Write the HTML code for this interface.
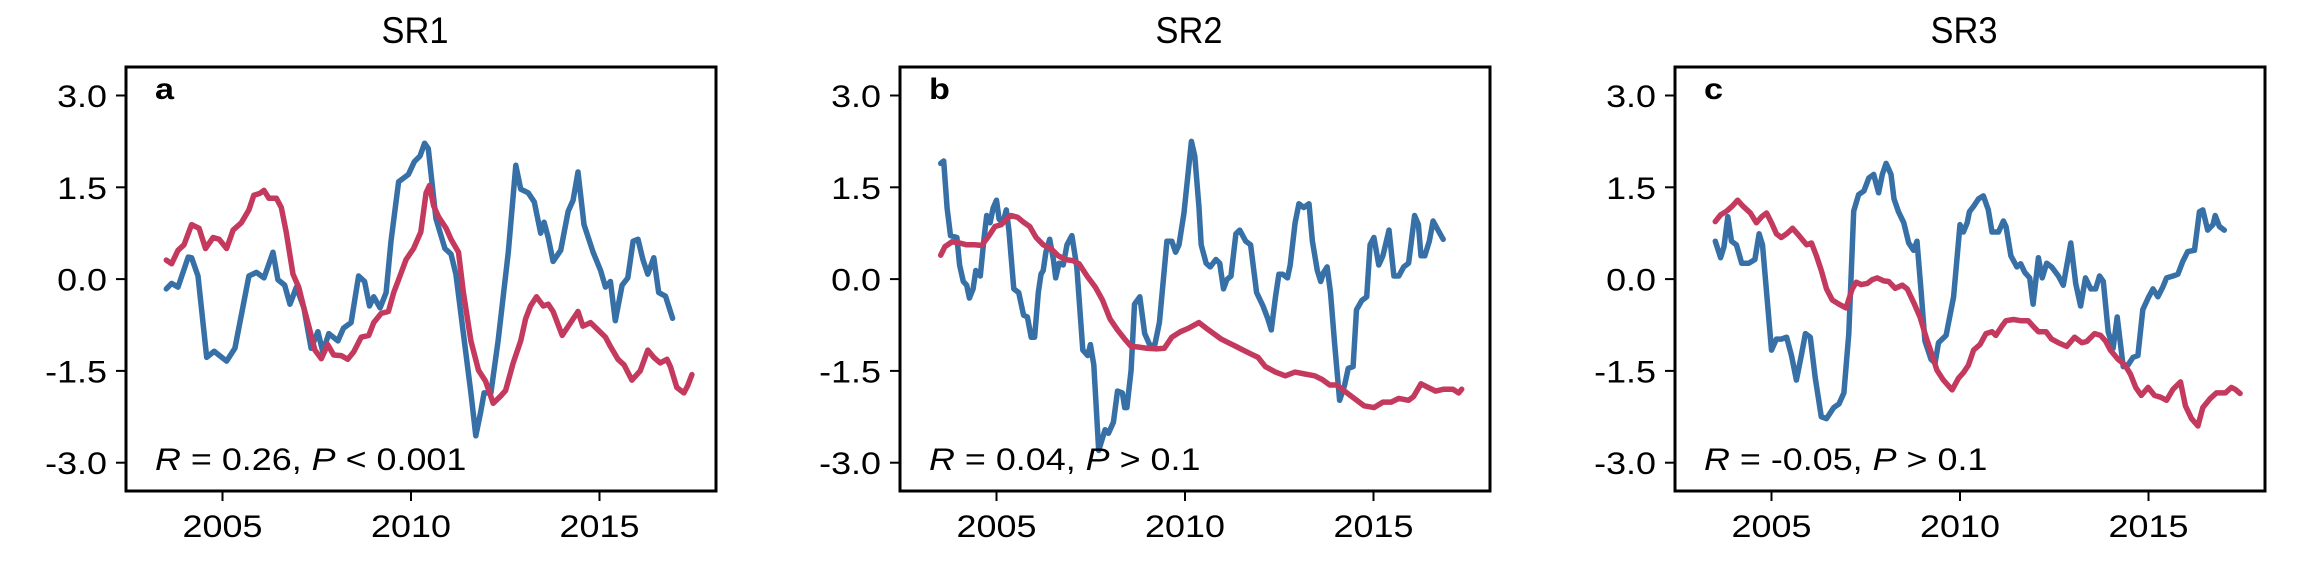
<!DOCTYPE html>
<html><head><meta charset="utf-8"><style>
html,body{margin:0;padding:0;background:#fff;}
svg{display:block;}
text{font-family:"Liberation Sans",sans-serif;fill:#000;}
</style></head>
<body>
<svg id="chart" width="2317" height="583" viewBox="0 0 2317 583" xmlns="http://www.w3.org/2000/svg"></svg>
<script>
const panelTitles = ["SR1","SR2","SR3"];
const panelLetters = ["a","b","c"];
const statR = ["0.26","0.04","-0.05"];
const statP = ["< 0.001","> 0.1","> 0.1"];
const yTicks = [3.0,1.5,0.0,-1.5,-3.0];
const yTickLabels = ["3.0","1.5","0.0","-1.5","-3.0"];
const xTicks = [2005,2010,2015];
const xTickLabels = ["2005","2010","2015"];

const aBlueYears = [2003.51,2003.65,2003.82,2004.09,2004.18,2004.35,2004.58,2004.78,2005.11,2005.33,2005.70,2005.90,2006.10,2006.34,2006.47,2006.65,2006.79,2006.96,2007.16,2007.35,2007.53,2007.66,2007.82,2008.06,2008.21,2008.41,2008.61,2008.77,2008.90,2009.01,2009.18,2009.34,2009.47,2009.67,2009.93,2010.09,2010.24,2010.36,2010.46,2010.66,2010.90,2011.06,2011.19,2011.39,2011.59,2011.72,2011.85,2011.94,2012.12,2012.31,2012.58,2012.78,2012.91,2013.11,2013.27,2013.44,2013.53,2013.64,2013.77,2013.97,2014.17,2014.30,2014.43,2014.59,2014.83,2015.03,2015.16,2015.29,2015.42,2015.60,2015.75,2015.89,2016.02,2016.15,2016.28,2016.44,2016.57,2016.75,2016.94];
const aBlueValues = [-0.16,-0.07,-0.13,0.36,0.35,0.05,-1.28,-1.18,-1.34,-1.13,0.05,0.11,0.02,0.44,-0.01,-0.10,-0.41,-0.13,-0.47,-1.13,-0.86,-1.19,-0.89,-1.01,-0.80,-0.71,0.05,-0.04,-0.44,-0.29,-0.47,-0.22,0.62,1.59,1.71,1.92,2.01,2.22,2.13,0.99,0.50,0.41,0.08,-0.89,-1.86,-2.56,-2.17,-1.86,-1.86,-1.01,0.44,1.86,1.47,1.41,1.26,0.75,0.93,0.68,0.29,0.47,1.11,1.29,1.75,0.89,0.44,0.14,-0.13,-0.04,-0.68,-0.10,0.02,0.62,0.65,0.32,0.08,0.35,-0.22,-0.28,-0.64];
const aRedYears = [2003.51,2003.65,2003.82,2003.98,2004.18,2004.38,2004.55,2004.75,2004.91,2005.11,2005.28,2005.50,2005.70,2005.83,2005.99,2006.10,2006.23,2006.43,2006.56,2006.69,2006.87,2007.02,2007.16,2007.29,2007.45,2007.62,2007.79,2007.95,2008.15,2008.32,2008.48,2008.68,2008.88,2009.01,2009.21,2009.40,2009.54,2009.67,2009.87,2010.07,2010.26,2010.40,2010.49,2010.60,2010.73,2010.93,2011.06,2011.26,2011.39,2011.59,2011.79,2011.98,2012.18,2012.38,2012.51,2012.71,2012.91,2013.04,2013.17,2013.33,2013.51,2013.64,2013.77,2014.01,2014.17,2014.43,2014.56,2014.76,2014.96,2015.16,2015.29,2015.49,2015.65,2015.86,2016.08,2016.28,2016.44,2016.61,2016.79,2016.88,2017.05,2017.24,2017.34,2017.45];
const aRedValues = [0.31,0.25,0.47,0.56,0.89,0.83,0.50,0.68,0.65,0.50,0.80,0.92,1.13,1.37,1.40,1.45,1.32,1.32,1.17,0.77,0.08,-0.13,-0.47,-0.77,-1.16,-1.30,-1.07,-1.24,-1.25,-1.31,-1.19,-0.95,-0.92,-0.71,-0.56,-0.53,-0.22,-0.01,0.32,0.50,0.77,1.41,1.53,1.20,1.02,0.83,0.65,0.44,-0.22,-1.01,-1.49,-1.67,-2.03,-1.91,-1.82,-1.37,-1.01,-0.65,-0.44,-0.29,-0.44,-0.41,-0.53,-0.92,-0.77,-0.53,-0.77,-0.71,-0.83,-0.95,-1.10,-1.31,-1.40,-1.65,-1.50,-1.16,-1.28,-1.37,-1.31,-1.43,-1.77,-1.86,-1.74,-1.56];

const bBlueYears = [2003.52,2003.60,2003.69,2003.78,2003.95,2004.02,2004.12,2004.21,2004.28,2004.38,2004.45,2004.57,2004.67,2004.74,2004.83,2004.91,2005.00,2005.07,2005.17,2005.26,2005.33,2005.46,2005.59,2005.72,2005.82,2005.92,2006.01,2006.11,2006.18,2006.24,2006.31,2006.41,2006.51,2006.57,2006.66,2006.77,2006.87,2007.00,2007.13,2007.29,2007.42,2007.49,2007.58,2007.71,2007.88,2007.97,2008.10,2008.21,2008.34,2008.40,2008.46,2008.57,2008.66,2008.80,2008.93,2009.06,2009.19,2009.32,2009.52,2009.65,2009.75,2009.84,2009.97,2010.07,2010.17,2010.26,2010.37,2010.43,2010.56,2010.67,2010.82,2010.92,2011.02,2011.11,2011.22,2011.35,2011.45,2011.61,2011.74,2011.90,2012.07,2012.20,2012.29,2012.40,2012.49,2012.59,2012.72,2012.79,2012.92,2013.02,2013.15,2013.29,2013.38,2013.51,2013.60,2013.68,2013.77,2013.86,2013.97,2014.10,2014.23,2014.33,2014.46,2014.55,2014.69,2014.82,2014.91,2015.01,2015.14,2015.25,2015.41,2015.54,2015.67,2015.80,2015.93,2016.09,2016.19,2016.26,2016.36,2016.48,2016.58,2016.71,2016.85];
const bBlueValues = [1.89,1.93,1.16,0.71,0.68,0.23,-0.04,-0.10,-0.31,-0.16,0.14,0.05,0.68,1.04,0.92,1.16,1.29,0.98,0.92,1.13,0.80,-0.16,-0.22,-0.59,-0.62,-0.95,-0.95,-0.22,0.08,0.14,0.44,0.65,0.32,0.02,0.26,0.23,0.56,0.71,0.20,-1.16,-1.25,-1.07,-1.40,-2.80,-2.46,-2.52,-2.34,-1.83,-1.86,-2.10,-2.10,-1.49,-0.41,-0.29,-0.89,-1.07,-1.10,-0.71,0.62,0.62,0.44,0.56,1.07,1.65,2.25,2.01,1.19,0.56,0.26,0.20,0.32,0.26,-0.16,-0.01,0.05,0.74,0.80,0.62,0.56,-0.22,-0.44,-0.65,-0.83,-0.29,0.08,0.08,0.02,0.23,0.92,1.23,1.17,1.23,0.62,0.14,-0.04,0.11,0.20,-0.22,-1.07,-1.98,-1.74,-1.46,-1.43,-0.50,-0.35,-0.29,0.56,0.68,0.23,0.38,0.80,0.05,0.05,0.20,0.26,1.04,0.89,0.38,0.38,0.62,0.95,0.80,0.65];
const bRedYears = [2003.52,2003.63,2003.82,2004.02,2004.21,2004.41,2004.61,2004.80,2004.96,2005.13,2005.26,2005.39,2005.56,2005.72,2005.88,2006.05,2006.24,2006.44,2006.64,2006.83,2007.03,2007.19,2007.40,2007.62,2007.81,2008.01,2008.21,2008.40,2008.57,2008.76,2008.99,2009.25,2009.45,2009.65,2009.88,2010.10,2010.37,2010.56,2010.76,2010.96,2011.15,2011.35,2011.54,2011.74,2011.94,2012.13,2012.40,2012.66,2012.92,2013.18,2013.44,2013.64,2013.84,2014.03,2014.23,2014.49,2014.75,2015.01,2015.25,2015.47,2015.67,2015.93,2016.06,2016.26,2016.45,2016.65,2016.85,2017.11,2017.26,2017.34];
const bRedValues = [0.39,0.53,0.61,0.59,0.56,0.56,0.55,0.71,0.86,0.89,0.98,1.04,1.01,0.93,0.86,0.68,0.56,0.50,0.38,0.32,0.30,0.25,0.05,-0.13,-0.34,-0.65,-0.83,-0.98,-1.10,-1.11,-1.13,-1.14,-1.13,-0.95,-0.86,-0.80,-0.71,-0.80,-0.89,-0.98,-1.04,-1.10,-1.16,-1.22,-1.28,-1.43,-1.52,-1.58,-1.52,-1.55,-1.58,-1.64,-1.73,-1.73,-1.83,-1.95,-2.07,-2.10,-2.01,-2.01,-1.95,-1.98,-1.92,-1.71,-1.77,-1.83,-1.80,-1.80,-1.86,-1.80];

const cBlueYears = [2003.51,2003.65,2003.74,2003.84,2003.94,2004.07,2004.21,2004.40,2004.56,2004.67,2004.76,2004.87,2005.00,2005.13,2005.26,2005.40,2005.53,2005.66,2005.79,2005.90,2006.03,2006.16,2006.32,2006.46,2006.65,2006.79,2006.92,2007.05,2007.18,2007.31,2007.45,2007.58,2007.71,2007.84,2007.94,2008.04,2008.17,2008.25,2008.37,2008.51,2008.64,2008.77,2008.86,2008.97,2009.07,2009.23,2009.34,2009.43,2009.63,2009.83,2010.00,2010.09,2010.19,2010.25,2010.36,2010.49,2010.62,2010.75,2010.85,2011.02,2011.15,2011.22,2011.35,2011.51,2011.61,2011.72,2011.85,2011.94,2012.08,2012.18,2012.30,2012.43,2012.61,2012.74,2012.94,2013.07,2013.20,2013.33,2013.47,2013.60,2013.70,2013.80,2013.93,2014.06,2014.17,2014.33,2014.46,2014.59,2014.72,2014.85,2014.99,2015.12,2015.25,2015.38,2015.48,2015.65,2015.78,2015.91,2016.04,2016.22,2016.35,2016.44,2016.57,2016.71,2016.77,2016.88,2017.01];
const cBlueValues = [0.62,0.35,0.53,1.02,0.62,0.56,0.26,0.26,0.32,0.74,0.56,-0.22,-1.16,-0.98,-0.98,-0.95,-1.25,-1.65,-1.25,-0.89,-0.95,-1.61,-2.25,-2.28,-2.10,-2.04,-1.86,-0.89,1.11,1.38,1.44,1.65,1.71,1.41,1.71,1.89,1.71,1.31,1.10,0.92,0.59,0.47,0.62,-0.22,-1.01,-1.31,-1.37,-1.04,-0.92,-0.29,0.89,0.77,0.92,1.10,1.19,1.31,1.36,1.13,0.77,0.77,0.95,0.86,0.38,0.20,0.25,0.11,0.02,-0.41,0.35,0.02,0.26,0.20,0.05,-0.10,0.59,-0.07,-0.44,0.02,-0.16,-0.16,0.05,-0.04,-0.86,-1.13,-0.62,-1.43,-1.40,-1.28,-1.25,-0.50,-0.31,-0.16,-0.29,-0.13,0.02,0.05,0.08,0.29,0.45,0.47,1.10,1.13,0.80,0.89,1.04,0.86,0.80];
const cRedYears = [2003.51,2003.65,2003.81,2003.97,2004.10,2004.23,2004.44,2004.60,2004.74,2004.87,2005.00,2005.13,2005.26,2005.40,2005.56,2005.73,2005.93,2006.06,2006.19,2006.32,2006.46,2006.61,2006.79,2006.98,2007.14,2007.25,2007.38,2007.54,2007.67,2007.80,2007.98,2008.11,2008.28,2008.47,2008.60,2008.77,2008.94,2009.10,2009.23,2009.39,2009.56,2009.79,2009.96,2010.09,2010.22,2010.36,2010.53,2010.69,2010.85,2010.95,2011.11,2011.22,2011.42,2011.61,2011.81,2011.94,2012.08,2012.28,2012.43,2012.61,2012.83,2013.04,2013.23,2013.36,2013.57,2013.73,2013.86,2013.99,2014.19,2014.37,2014.52,2014.66,2014.81,2014.99,2015.16,2015.32,2015.48,2015.65,2015.85,2015.98,2016.14,2016.31,2016.44,2016.64,2016.80,2017.04,2017.20,2017.30,2017.43];
const cRedValues = [0.94,1.05,1.11,1.20,1.29,1.20,1.08,0.92,1.02,1.08,0.92,0.74,0.68,0.74,0.83,0.71,0.56,0.59,0.38,0.14,-0.16,-0.34,-0.41,-0.47,-0.16,-0.05,-0.09,-0.07,-0.01,0.02,-0.03,-0.04,-0.15,-0.10,-0.16,-0.38,-0.62,-0.95,-1.19,-1.49,-1.65,-1.81,-1.62,-1.53,-1.41,-1.16,-1.07,-0.89,-0.86,-0.92,-0.77,-0.68,-0.66,-0.68,-0.68,-0.77,-0.86,-0.86,-0.98,-1.04,-1.10,-0.95,-1.04,-1.02,-0.89,-0.92,-1.01,-1.16,-1.31,-1.40,-1.55,-1.77,-1.90,-1.77,-1.90,-1.93,-1.98,-1.80,-1.68,-2.07,-2.28,-2.40,-2.10,-1.95,-1.86,-1.86,-1.77,-1.80,-1.87];

const blueYears=[aBlueYears,bBlueYears,cBlueYears], blueValues=[aBlueValues,bBlueValues,cBlueValues];
const redYears=[aRedYears,bRedYears,cRedYears], redValues=[aRedValues,bRedValues,cRedValues];

const NS="http://www.w3.org/2000/svg";
const svg=document.getElementById('chart');
const panelLeft=[126,900,1675], panelW=590, panelTop=67, panelBot=491;
const SX=1.14;
function mk(tag,attrs,parent){const e=document.createElementNS(NS,tag);for(const k in attrs)e.setAttribute(k,attrs[k]);(parent||svg).appendChild(e);return e;}
function stretch(x,s){return `translate(${x} 0) scale(${s||SX} 1) translate(${-x} 0)`;}

for(let p=0;p<3;p++){
  const x0=panelLeft[p];
  const xs=y=>x0+96.5+(y-2005)*37.7;
  const ys=v=>279.1-v*61.2;
  const g=mk('g',{});
  
  
  const cx=x0+289;
  const t=mk('text',{x:cx,y:43,'font-size':37,'text-anchor':'middle',transform:stretch(cx,0.93)},g);
  t.textContent=panelTitles[p];
  
  
  const order=[[blueYears[p],blueValues[p],'#3670a6','blue-series'],[redYears[p],redValues[p],'#c43a5e','red-series']];
  for(const s of order){
    let d='';
    s[0].forEach((yr,i)=>{d+=(i?'L':'M')+xs(yr).toFixed(1)+' '+ys(s[1][i]).toFixed(1);});
    const path=mk('path',{d:d,fill:'none',stroke:s[2],'stroke-width':5.5,'stroke-linejoin':'round','stroke-linecap':'round'},g);
    
    
  }
  const box=mk('rect',{x:x0,y:panelTop,width:panelW,height:panelBot-panelTop,fill:'none',stroke:'#000','stroke-width':3},g);
  
  
  yTicks.forEach((v,i)=>{
    const y=ys(v);
    const tk=mk('line',{x1:x0-10,x2:x0,y1:y,y2:y,stroke:'#000','stroke-width':2},g);
    
    
    const lx=x0-19;
    const tl=mk('text',{x:lx,y:y+11.5,'font-size':31.5,'text-anchor':'end',transform:stretch(lx)},g);
    tl.textContent=yTickLabels[i];
    
    
  });
  xTicks.forEach((v,i)=>{
    const x=xs(v);
    const tk=mk('line',{x1:x,x2:x,y1:panelBot,y2:panelBot+10,stroke:'#000','stroke-width':2},g);
    
    
    const tl=mk('text',{x:x,y:537,'font-size':31.5,'text-anchor':'middle',transform:stretch(x)},g);
    tl.textContent=xTickLabels[i];
    
    
  });
  const lx2=x0+29;
  const lt=mk('text',{x:lx2,y:99,'font-size':30,'font-weight':'bold',transform:stretch(lx2)},g);
  lt.textContent=panelLetters[p];
  
  
  const ax=x0+29;
  const st=mk('text',{x:ax,y:470,'font-size':31.5,transform:stretch(ax)},g);
  
  
  st.innerHTML=`<tspan font-style="italic">R</tspan> = ${statR[p]}, <tspan font-style="italic">P</tspan> ${statP[p].replace('<','&lt;').replace('>','&gt;')}`;
}
</script>
</body></html>
